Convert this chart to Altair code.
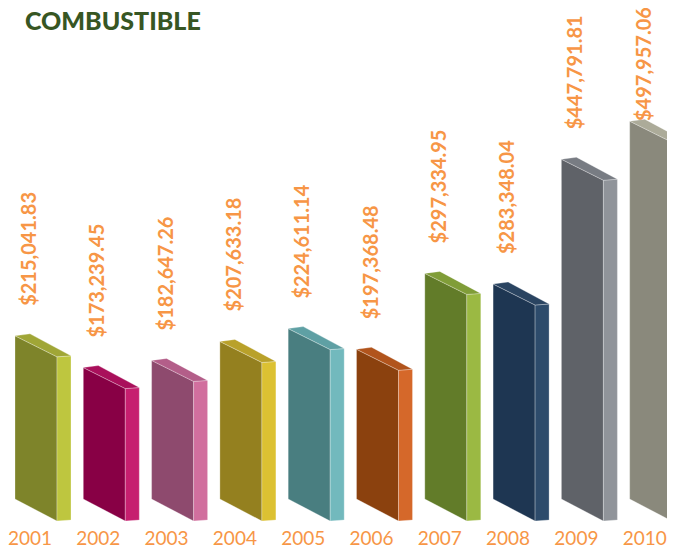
import altair as alt
import pandas as pd

# ---- data ----
years = ["2001", "2002", "2003", "2004", "2005", "2006", "2007", "2008", "2009", "2010"]
values = [215041.83, 173239.45, 182647.26, 207633.18, 224611.14,
          197368.48, 297334.95, 283348.04, 447791.81, 497957.06]

# ---- styles ----
front_colors = ["#7E842A", "#880045", "#8E4A6E", "#94801F", "#497E80",
                "#8B410E", "#627C29", "#1E3652", "#5F6268", "#8A897C"]
side_colors = ["#BEC63F", "#C61F6F", "#D16F9E", "#DCC132", "#72B9BD",
               "#D5682A", "#9BB943", "#2D4B6B", "#90949A", "#CFCDB9"]
top_colors = ["#A0A636", "#A9105B", "#B35E89", "#B9A12A", "#5FA0A4",
              "#B1541C", "#809D38", "#2A4461", "#787C83", "#ACAB99"]

W, H = 659, 541
BASE_PX = 491          # pixel row of the value 0 inside the plot
DPP = 1318.0           # dollars per pixel of the y scale
SLOT_PX = 68.3         # pixels per category slot
FIRST_PX = 22.0        # pixel of the first slot centre
LABEL_LEN_PX = 113     # length of a rotated value label

y_dom = [-(H - BASE_PX) * DPP, BASE_PX * DPP]
x_dom = [-FIRST_PX / SLOT_PX, (W - FIRST_PX) / SLOT_PX]


def sx(i, off_px):
    return i + off_px / SLOT_PX


def sy(v, down_px):
    return v - down_px * DPP


rows = []
ids, cols = [], []
for i, (yr, v) in enumerate(zip(years, values)):
    # front (wide) face
    pid = f"{yr}-a"
    ids.append(pid); cols.append(front_colors[i])
    for ox, dt, db in [(-15, 0, 0), (27, 21, 22)]:
        rows.append(dict(poly=pid, x=sx(i, ox), y=sy(v, dt), y2=sy(0, db)))
    # side (narrow) face
    pid = f"{yr}-b"
    ids.append(pid); cols.append(side_colors[i])
    for ox, dt, db in [(27, 21, 22), (41, 20, 21)]:
        rows.append(dict(poly=pid, x=sx(i, ox), y=sy(v, dt), y2=sy(0, db)))
    # top face
    pid = f"{yr}-c"
    ids.append(pid); cols.append(top_colors[i])
    for ox, up, lo in [(-15, 0, 0), (0, -2, 7.5), (27, 12.5, 21), (41, 20, 20)]:
        rows.append(dict(poly=pid, x=sx(i, ox), y=sy(v, up), y2=sy(v, lo)))

poly_df = pd.DataFrame(rows)

# value labels sit 30px above the bar, kept inside the chart area
label_cap = y_dom[1] - LABEL_LEN_PX * DPP
lab_df = pd.DataFrame({
    "x": list(range(len(years))),
    "y": [min(v + 30 * DPP, label_cap) for v in values],
    "text": ["${:,.2f}".format(v) for v in values],
})
yr_df = pd.DataFrame({
    "x": list(range(len(years))),
    "y": [-40 * DPP] * len(years),
    "text": years,
})

xs = alt.Scale(domain=x_dom, nice=False, zero=False)
ys = alt.Scale(domain=y_dom, nice=False, zero=False)

faces = alt.Chart(poly_df).mark_area(
    stroke="white", strokeOpacity=0.35, strokeWidth=0.8, interpolate="linear"
).encode(
    x=alt.X("x:Q", scale=xs, axis=None),
    y=alt.Y("y:Q", scale=ys, axis=None),
    y2="y2:Q",
    color=alt.Color("poly:N", scale=alt.Scale(domain=ids, range=cols), legend=None),
    detail="poly:N",
)

val_labels = alt.Chart(lab_df).mark_text(
    angle=270, align="left", baseline="middle", font="Lato", fontSize=20,
    fontWeight="bold", color="#F79646"
).encode(
    x=alt.X("x:Q", scale=xs, axis=None),
    y=alt.Y("y:Q", scale=ys, axis=None),
    text="text:N",
)

year_labels = alt.Chart(yr_df).mark_text(
    align="center", baseline="middle", font="Lato", fontSize=19, color="#F79646"
).encode(
    x=alt.X("x:Q", scale=xs, axis=None),
    y=alt.Y("y:Q", scale=ys, axis=None),
    text="text:N",
)

chart = alt.layer(faces, val_labels, year_labels).properties(
    width=W, height=H,
    autosize="none",
    padding=0,
    title=alt.TitleParams(
        text="COMBUSTIBLE", anchor="start", font="Lato", fontSize=25,
        fontWeight=900, color="#375623", dx=17, baseline="alphabetic", offset=-48,
    ),
).configure_view(stroke=None)

chart.save("out.html", embed_options={"renderer": "svg", "actions": False})
